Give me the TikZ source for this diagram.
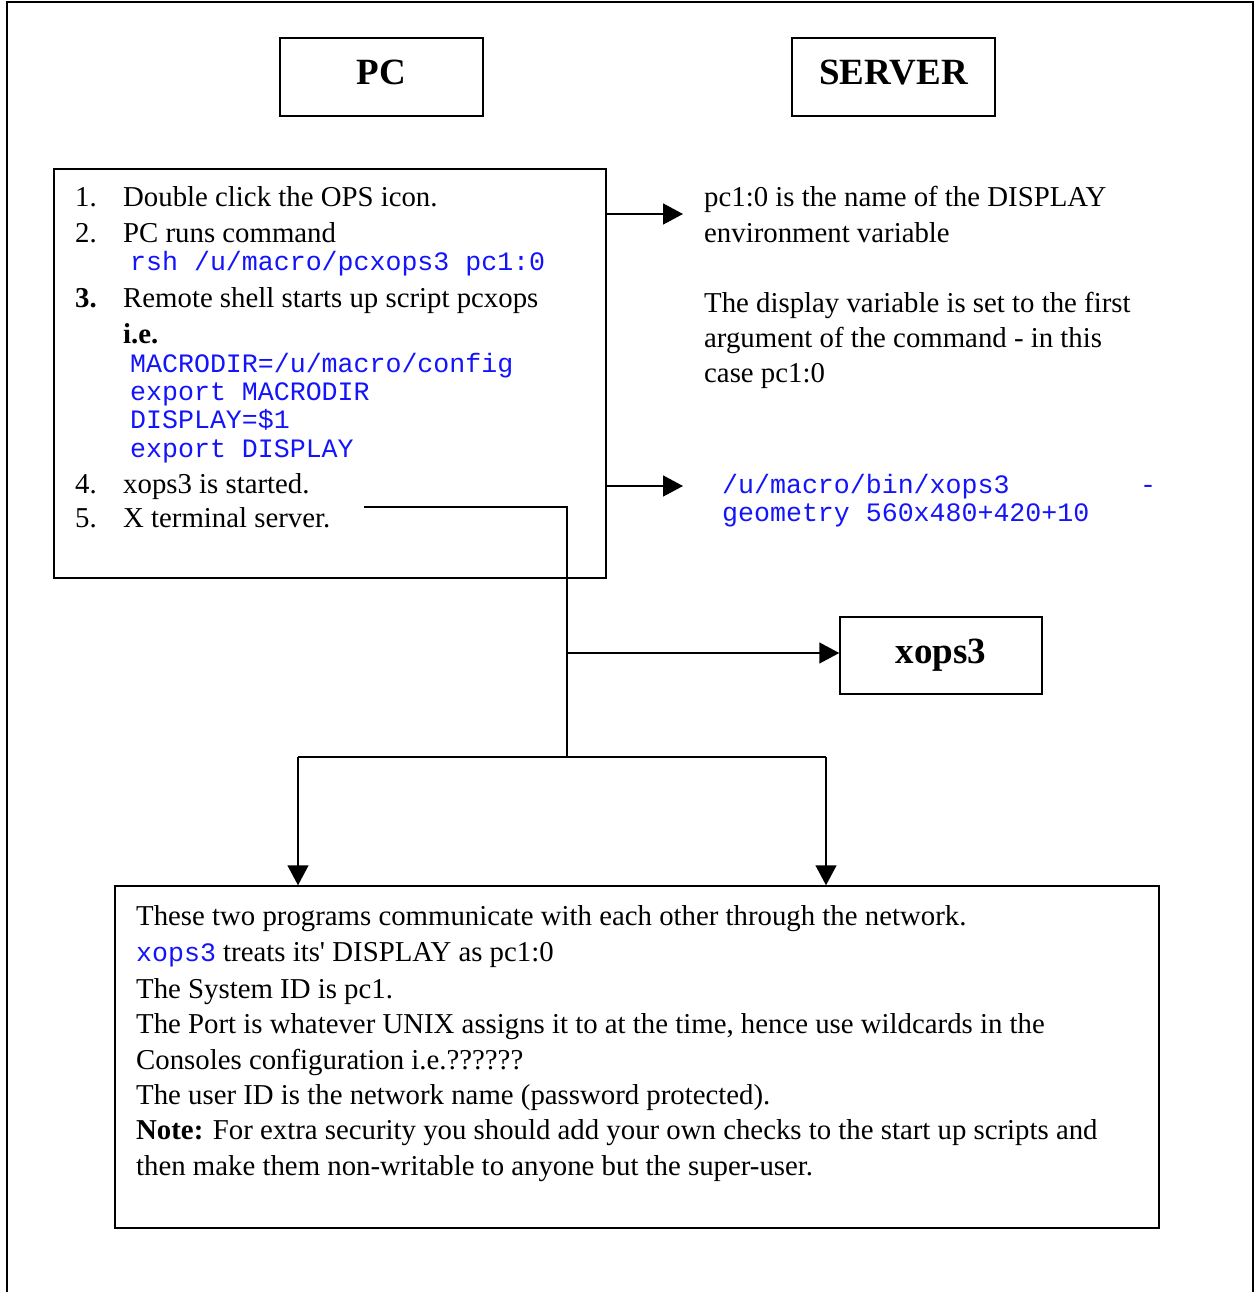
\documentclass[tikz,border=0pt]{standalone}
\usepackage{fontspec}
\setmainfont{Liberation Serif}
\setmonofont{Liberation Mono}
\usetikzlibrary{arrows.meta}
\definecolor{codeblue}{RGB}{20,20,250}
\begin{document}
\begin{tikzpicture}[x=1pt,y=-1pt,
  box/.style={draw=black,line width=1.5pt,inner sep=0pt},
  wire/.style={draw=black,line width=1.5pt},
  arr/.style={wire,-{Triangle[length=20pt,width=21pt]}},
  txt/.style={anchor=base west,inner sep=0pt,font=\fontsize{28.8}{35}\selectfont},
  code/.style={anchor=base west,inner sep=0pt,text=codeblue,font=\fontsize{26.6}{30}\ttfamily\selectfont},
  title/.style={anchor=base,inner sep=0pt,font=\fontsize{37}{40}\bfseries\selectfont}
]
\useasboundingbox (0,0) rectangle (1258,1292);

% outer frame (open at the bottom)
\draw[wire] (7,1292) -- (7,2) -- (1253,2) -- (1253,1292);

% headings
\node[box,minimum width=203pt,minimum height=78pt] (pc) at (381.5,77) {};
\node[title] (pclabel) at (381.5,85) {PC};
\node[box,minimum width=203pt,minimum height=78pt] (server) at (893.5,77) {};
\node[title] (serverlabel) at (893.5,85) {SERVER};

% client-side steps
\node[box,minimum width=552pt,minimum height=409pt] (steps) at (330,373.5) {};
\node[txt] (n1) at (75,207) {1.};
\node[txt] (s1) at (123,207) {Double click the OPS icon.};
\node[txt] (n2) at (75,242) {2.};
\node[txt] (s2) at (123,242) {PC runs command};
\node[code] (c1) at (130,270) {rsh /u/macro/pcxops3 pc1:0};
\node[txt,font=\fontsize{28.8}{35}\bfseries\selectfont] (n3) at (75,307) {3.};
\node[txt] (s3) at (123,307) {Remote shell starts up script pcxops};
\node[txt,font=\fontsize{28.8}{35}\bfseries\selectfont] (ie) at (123,343) {i.e.};
\node[code] (c2) at (130,372) {MACRODIR=/u/macro/config};
\node[code] (c3) at (130,400) {export MACRODIR};
\node[code] (c4) at (130,428) {DISPLAY=\$1};
\node[code] (c5) at (130,457) {export DISPLAY};
\node[txt] (n4) at (75,493) {4.};
\node[txt] (s4) at (123,493) {xops3 is started.};
\node[txt] (n5) at (75,527) {5.};
\node[txt] (s5) at (123,527) {X terminal server.};

% server-side notes
\node[txt] (r1) at (704,206) {pc1:0 is the name of the DISPLAY};
\node[txt] (r2) at (704,242) {environment variable};
\node[txt] (r3) at (704,312) {The display variable is set to the first};
\node[txt] (r4) at (704,347) {argument of the command - in this};
\node[txt] (r5) at (704,382) {case pc1:0};
\node[code] (r6) at (722,493) {\makebox[434pt][l]{/u/macro/bin/xops3\hfill-}};
\node[code] (r7) at (722,521) {geometry 560x480+420+10};

% program box
\node[box,minimum width=202pt,minimum height=77pt] (xops) at (941,655.5) {};
\node[title] (xopslabel) at (941,663) {xops3};

% shared note
\node[box,minimum width=1044pt,minimum height=342pt] (note) at (637,1057) {};
\node[txt] (b1) at (136,925) {These two programs communicate with each other through the network.};
\node[txt] (b2) at (136,961) {{\color{codeblue}\fontsize{26.6}{30}\ttfamily\selectfont xops3} treats its\textquotesingle{} DISPLAY as pc1:0};
\node[txt] (b3) at (136,998) {The System ID is pc1.};
\node[txt] (b4) at (136,1033) {The Port is whatever UNIX assigns it to at the time, hence use wildcards in the};
\node[txt] (b5) at (136,1069) {Consoles configuration i.e.??????};
\node[txt] (b6) at (136,1104) {The user ID is the network name (password protected).};
\node[txt] (b7) at (136,1139) {\textbf{Note:} For extra security you should add your own checks to the start up scripts and};
\node[txt] (b8) at (136,1175) {then make them non-writable to anyone but the super-user.};

% connectors
\coordinate (a1) at (683,214);
\coordinate (a2) at (683,486);
\draw[arr] (steps.east |- a1) -- (a1);
\draw[arr] (steps.east |- a2) -- (a2);

\coordinate (w0) at (364,507);
\coordinate (wc) at (567,507);
\coordinate (wm) at (567,653);
\coordinate (wb) at (567,758);
\coordinate (bl) at (298,757);
\coordinate (br) at (826,757);
\draw[wire] (w0) -- (wc) -- (wb);
\draw[arr] (wm) -- (xops.west |- wm);
\draw[wire] (bl) -- (br);
\draw[arr] (bl) -- (bl |- note.north);
\draw[arr] (br) -- (br |- note.north);
\end{tikzpicture}
\end{document}
